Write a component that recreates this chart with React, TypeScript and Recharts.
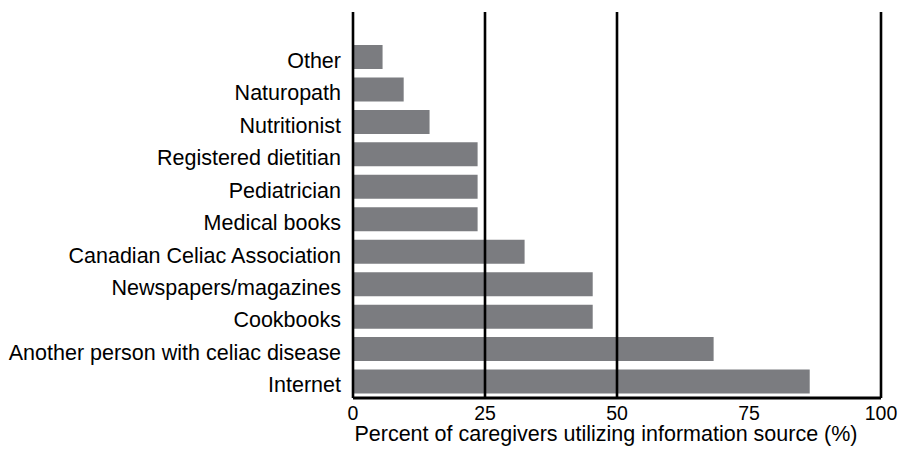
import React from 'react';
import { BarChart, Bar, XAxis, YAxis, ReferenceLine, Label } from 'recharts';

const sources = [
  'Other',
  'Naturopath',
  'Nutritionist',
  'Registered dietitian',
  'Pediatrician',
  'Medical books',
  'Canadian Celiac Association',
  'Newspapers/magazines',
  'Cookbooks',
  'Another person with celiac disease',
  'Internet',
];
const percents = [5.6, 9.6, 14.5, 23.6, 23.6, 23.6, 32.5, 45.4, 45.4, 68.3, 86.5];
const xTicks = [0, 25, 50, 75, 100];
const refLines = [25, 50, 100];

const data = sources.map((s, i) => ({ source: s, value: percents[i] }));

const FONT = '"Liberation Sans", Arial, Helvetica, sans-serif';

const YTick = (props: any) => {
  const { x, y, payload } = props;
  return (
    <text x={x} y={y + 3} dy="0.355em" textAnchor="end" fill="#000" fontSize={21.5} fontFamily={FONT}>
      {payload.value}
    </text>
  );
};

const XTick = (props: any) => {
  const { x, y, payload } = props;
  return (
    <text x={x} y={y + 16} textAnchor="middle" fill="#000" fontSize={19.5} fontFamily={FONT}>
      {payload.value}
    </text>
  );
};

export default function App() {
  return (
    <div style={{ position: 'absolute', left: 0, top: 0, background: '#fff' }}>
      <BarChart
        width={901}
        height={453}
        data={data}
        layout="vertical"
        margin={{ top: 12, right: 20, bottom: 0, left: 0 }}
        style={{ fontFamily: FONT }}
      >
        <Bar dataKey="value" fill="#7b7c80" barSize={24} isAnimationActive={false} />
        {refLines.map((v) => (
          <ReferenceLine key={v} x={v} stroke="#000" strokeWidth={2.6} />
        ))}
        <XAxis
          type="number"
          domain={[0, 100]}
          ticks={xTicks}
          interval={0}
          tickLine={false}
          tickSize={6}
          tickMargin={0}
          axisLine={{ stroke: '#000', strokeWidth: 3 }}
          tick={<XTick />}
          height={55}
        >
          <Label
            content={(p: any) => {
              const vb = p.viewBox || {};
              return (
                <text
                  x={vb.x + vb.width / 2 - 11}
                  y={vb.y + vb.height - 12}
                  textAnchor="middle"
                  fill="#000"
                  fontSize={21.5}
                  fontFamily={FONT}
                >
                  Percent of caregivers utilizing information source (%)
                </text>
              );
            }}
          />
        </XAxis>
        <YAxis
          type="category"
          dataKey="source"
          width={353}
          interval={0}
          tickLine={false}
          tickMargin={6}
          axisLine={{ stroke: '#000', strokeWidth: 2.6 }}
          tick={<YTick />}
          padding={{ top: 29, bottom: 0 }}
        />
      </BarChart>
    </div>
  );
}
